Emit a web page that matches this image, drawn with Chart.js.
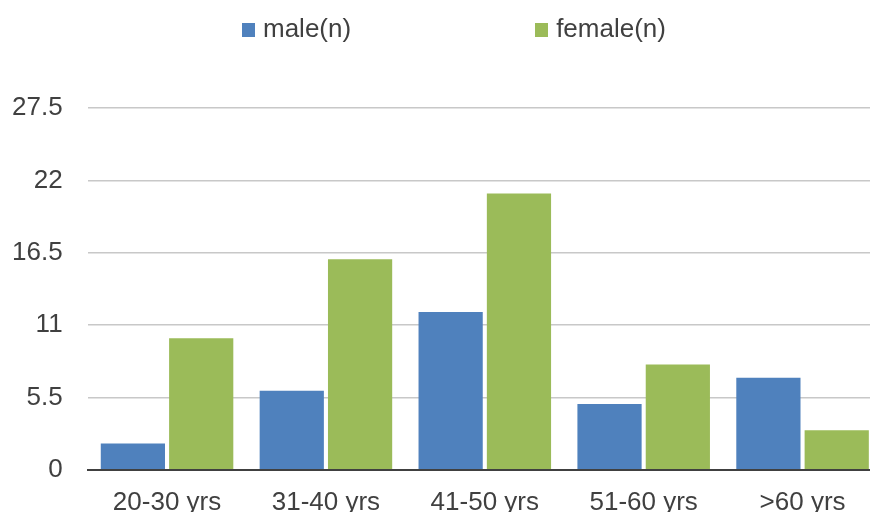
<!DOCTYPE html>
<html>
<head>
<meta charset="utf-8">
<script src="https://cdn.jsdelivr.net/npm/chart.js@4/dist/chart.umd.min.js"></script>
<style>
    html, body { margin: 0; padding: 0; background: #fff; overflow: hidden; }
    #wrap { position: relative; width: 882px; height: 512px; }
    #legend {
        position: absolute; top: 13px; left: 242px;
        display: flex; align-items: center;
        font-family: "Liberation Sans", Arial, sans-serif; font-size: 26px; line-height: 30px;
        color: #404040;
    }
    .item { display: flex; align-items: center; }
    .box { width: 13px; height: 14px; margin-right: 8px; position: relative; top: 2px; }
    .item + .item { margin-left: 184px; }
</style>
</head>
<body>
<div id="wrap">
    <div id="legend"></div>
    <canvas id="chart"></canvas>
</div>
<script>
// Datos del gráfico
const categorias = ['20-30 yrs', '31-40 yrs', '41-50 yrs', '51-60 yrs', '>60 yrs'];
const hombres = [2, 6, 12, 5, 7];
const mujeres = [10, 16, 21, 8, 3];
const ticksY = [0, 5.5, 11, 16.5, 22, 27.5];

const series = [
    { label: 'male(n)', data: hombres, color: '#4F81BD' },
    { label: 'female(n)', data: mujeres, color: '#9BBB59' }
];

// Leyenda en HTML (espaciado amplio como en el original)
const legendDiv = document.getElementById('legend');
series.forEach(s => {
    const item = document.createElement('span');
    item.className = 'item';
    const box = document.createElement('span');
    box.className = 'box';
    box.style.background = s.color;
    item.appendChild(box);
    item.appendChild(document.createTextNode(s.label));
    legendDiv.appendChild(item);
});

const fuente = { family: "'Liberation Sans', Arial, sans-serif", size: 26 };

new Chart(document.getElementById('chart'), {
    type: 'bar',
    data: {
        labels: categorias,
        datasets: series.map(s => ({
            label: s.label,
            data: s.data,
            backgroundColor: s.color,
            categoryPercentage: 0.86,
            barPercentage: 0.94
        }))
    },
    options: {
        responsive: true,
        maintainAspectRatio: false,
        animation: false,
        layout: { padding: { top: 108, left: -13, right: 0, bottom: -15 } },
        plugins: {
            legend: { display: false },
            tooltip: { enabled: false }
        },
        scales: {
            x: {
                grid: { display: false },
                border: { display: true, color: '#404040', width: 2 },
                ticks: { color: '#404040', font: fuente, padding: 9, maxRotation: 0 }
            },
            y: {
                min: ticksY[0],
                max: ticksY[ticksY.length - 1],
                afterBuildTicks: axis => { axis.ticks = ticksY.map(v => ({ value: v })); },
                grid: {
                    color: ctx => ctx.tick && ctx.tick.value === 0 ? 'rgba(0,0,0,0)' : '#c8c8c8',
                    lineWidth: 1.5,
                    drawTicks: false
                },
                border: { display: false },
                ticks: { color: '#404040', font: fuente, padding: 25 }
            }
        }
    }
});
</script>
</body>
</html>
